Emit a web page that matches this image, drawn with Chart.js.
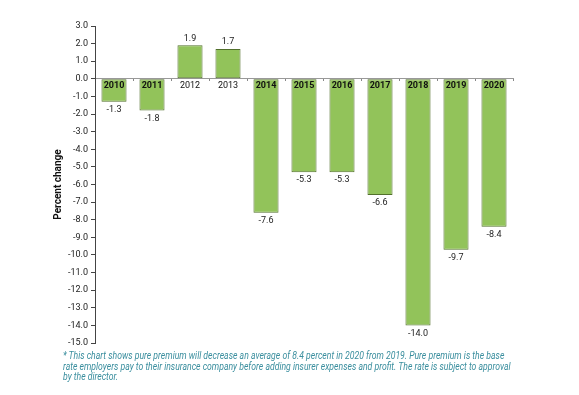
<!DOCTYPE html>
<html>
<head>
<meta charset="utf-8">
<script src="https://cdn.jsdelivr.net/npm/chart.js@4.4.1/dist/chart.umd.min.js"></script>
<style>
html,body{margin:0;padding:0;background:#fff;}
#wrap{position:relative;width:579px;height:395px;}
canvas{position:absolute;left:0;top:0;}
#note{position:absolute;left:63px;top:351px;font-family:'Roboto',sans-serif;font-style:italic;font-size:10px;line-height:10.6px;color:#3a8e9e;white-space:nowrap;transform:scaleX(0.865);transform-origin:0 0;}
</style>
</head>
<body>
<div id="wrap">
<canvas id="c" width="579" height="395"></canvas>
<div id="note">* This chart shows pure premium will decrease an average of 8.4 percent in 2020 from 2019. Pure premium is the base<br>rate employers pay to their insurance company before adding insurer expenses and profit. The rate is subject to approval<br>by the director.</div>
</div>
<script>
const categories = ['2010','2011','2012','2013','2014','2015','2016','2017','2018','2019','2020'];
const values = [-1.3, -1.8, 1.9, 1.7, -7.6, -5.3, -5.3, -6.6, -14.0, -9.7, -8.4];
const yMin = -15, yMax = 3, yStep = 1;
const FONT = "'Roboto',sans-serif";

const valueLabels = {
  id: 'valueLabels',
  afterDatasetsDraw(chart) {
    const ctx = chart.ctx;
    const meta = chart.getDatasetMeta(0);
    const xs = chart.scales.x, ys = chart.scales.y;
    const y0 = ys.getPixelForValue(0);
    ctx.save();
    ctx.textAlign = 'center';
    ctx.textBaseline = 'middle';
    meta.data.forEach((bar, i) => {
      const v = values[i];
      ctx.fillStyle = '#222';
      ctx.font = '9px ' + FONT;
      const y = v < 0 ? bar.y + 8 : bar.y - 7;
      ctx.fillText(v.toFixed(1), bar.x, y);
      // category label just below the zero line
      ctx.fillStyle = '#111';
      ctx.font = (v < 0 ? 'bold ' : '') + '9px ' + FONT;
      ctx.fillText(categories[i], xs.getPixelForValue(i), y0 + 7);
    });
    ctx.restore();
  }
};

new Chart(document.getElementById('c'), {
  type: 'bar',
  data: {
    labels: categories,
    datasets: [{
      data: values,
      backgroundColor: '#92c35a',
      borderColor: '#52702c',
      borderWidth: 1,
      borderSkipped: false,
      barPercentage: 0.66,
      categoryPercentage: 1.0
    }]
  },
  options: {
    responsive: false,
    animation: false,
    layout: { padding: { left: 52, right: 66, top: 26, bottom: 52 } },
    plugins: { legend: { display: false }, tooltip: { enabled: false } },
    scales: {
      x: {
        position: { y: 0 },
        grid: { drawOnChartArea: false, drawTicks: true, tickLength: 2, color: '#888' },
        border: { color: '#999', width: 1 },
        ticks: { display: false }
      },
      y: {
        min: yMin, max: yMax,
        afterFit(s) { s.width = 43; },
        title: { display: true, text: 'Percent change', font: { family: FONT, size: 10, weight: 'bold' }, color: '#111', padding: 0 },
        grid: { drawOnChartArea: false, tickLength: 4, color: '#444' },
        border: { color: '#444', width: 1 },
        ticks: {
          stepSize: yStep,
          color: '#222',
          padding: 3,
          font: { family: FONT, size: 9 },
          callback: (v) => Number(v).toFixed(1)
        }
      }
    }
  },
  plugins: [valueLabels]
});
</script>
</body>
</html>
